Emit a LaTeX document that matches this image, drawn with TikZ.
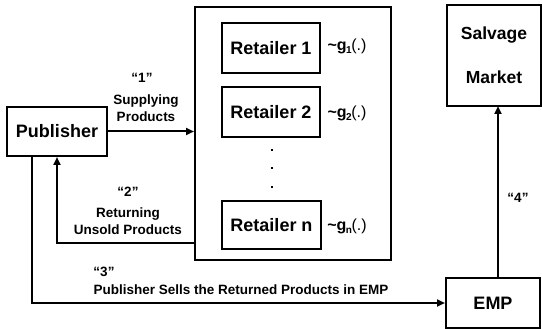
\documentclass[tikz,border=0pt]{standalone}
\usepackage{fontspec}
\setmainfont{Liberation Sans}
\usetikzlibrary{arrows.meta}
\newcommand{\gsub}[1]{\textbf{\textasciitilde g}\kern-0.5pt\raisebox{-3.5pt}{\fontsize{10}{10}\selectfont\bfseries #1}\kern-0.5pt(.)}
\begin{document}
\begin{tikzpicture}[x=1pt,y=-1pt,
  box/.style={draw,line width=2pt,inner sep=0pt,font=\fontsize{18}{22}\selectfont\bfseries},
  lbl/.style={inner sep=0pt,align=center,font=\fontsize{13.5}{17.5}\selectfont\bfseries},
  glbl/.style={inner sep=0pt,font=\fontsize{16}{18}\selectfont},
  arr/.style={line width=2pt,-{Triangle[length=8pt,width=7pt]}},
  dotsq/.style={fill,inner sep=0pt,minimum size=2.4pt}]
\useasboundingbox (0,0) rectangle (542,329);
% boxes
\node[box,minimum width=100pt,minimum height=49pt] (pub) at (57,131.5) {Publisher};
\node[draw,line width=2pt,inner sep=0pt,minimum width=196pt,minimum height=253pt] (big) at (293,133.5) {};
\node[box,minimum width=98pt,minimum height=50pt] (r1) at (271,48) {Retailer 1};
\node[box,minimum width=98pt,minimum height=50pt] (r2) at (271,112) {Retailer 2};
\node[box,minimum width=99pt,minimum height=48pt] (rn) at (271.5,225) {Retailer n};
\node[box,minimum width=94pt,minimum height=101pt,align=center,font=\fontsize{17.5}{44}\selectfont\bfseries] (sal) at (494,55.5) {Salvage\\Market};
\node[box,minimum width=94pt,minimum height=50pt] (emp) at (493,303) {EMP};
% g labels
\node[glbl] (g1) at (347,46) {\gsub{1}};
\node[glbl] (g2) at (347,113) {\gsub{2}};
\node[glbl] (gn) at (347,226) {\gsub{n}};
% dots
\node[dotsq] (d1) at (272,150) {};
\node[dotsq] (d2) at (272,168) {};
\node[dotsq] (d3) at (272,187) {};
% connectors
\draw[arr] (pub.east) -- (pub.east -| big.west);
\coordinate (ret) at (195,243);
\draw[arr] (ret) -| (pub.south);
\coordinate (p3) at (32,156);
\draw[arr] (p3) |- (emp.west);
\coordinate (e4) at (498,278);
\coordinate (s4) at (498,106);
\draw[arr] (e4) -- (s4);
% labels
\node[lbl] (q1) at (142,78) {“1”};
\node[lbl] (t1) at (146,108) {Supplying\\Products};
\node[lbl] (q2) at (128,192) {“2”};
\node[lbl] (t2) at (128,221) {Returning\\Unsold Products};
\node[lbl] (q3) at (104,272) {“3”};
\node[lbl] (t3) at (241,290) {Publisher Sells the Returned Products in EMP};
\node[lbl] (q4) at (518,198) {“4”};
\end{tikzpicture}
\end{document}
